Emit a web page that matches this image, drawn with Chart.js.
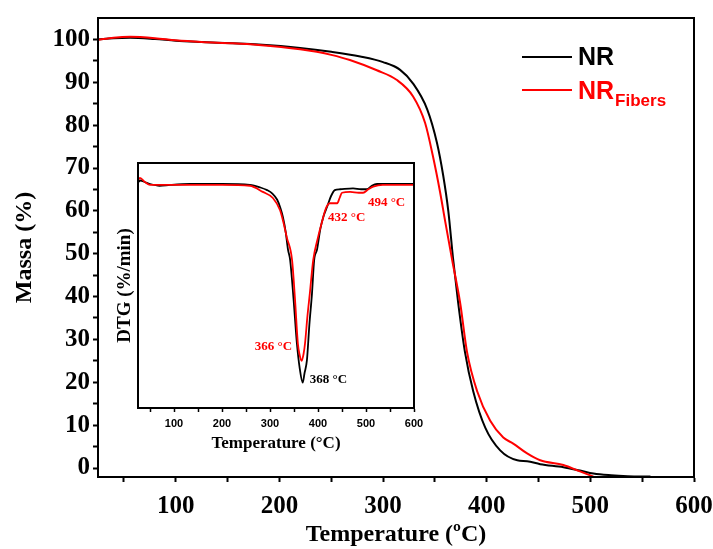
<!DOCTYPE html>
<html>
<head>
<meta charset="utf-8">
<script src="https://cdn.jsdelivr.net/npm/chart.js@4.4.1/dist/chart.umd.min.js"></script>
<style>
  html, body { margin: 0; padding: 0; background: #fff; }
  #wrap { position: relative; width: 713px; height: 549px; overflow: hidden; }
  #main { position: absolute; left: 0; top: 0; }
  #inset { position: absolute; left: 100px; top: 150px; }
  .leg-line { position: absolute; left: 522px; width: 50px; height: 2px; }
  .leg-text { position: absolute; left: 578px; font-family: "Liberation Sans", Arial, sans-serif;
              font-weight: bold; font-size: 25px; line-height: 25px; white-space: nowrap; }
  .leg-text span { font-size: 17px; position: relative; top: 7px; margin-left: 1px; }
</style>
</head>
<body>
<div id="wrap">
  <canvas id="main" width="713" height="549"></canvas>
  <canvas id="inset" width="330" height="305"></canvas>
  <div class="leg-line" style="top:56px; background:#000;"></div>
  <div class="leg-text" style="top:44px; color:#000;">NR</div>
  <div class="leg-line" style="top:89px; background:#ff0000;"></div>
  <div class="leg-text" style="top:78px; color:#ff0000;">NR<span>Fibers</span></div>
</div>
<script>
// TGA curves (mass %)
const nrTemp  = [25, 40, 56, 80, 100, 125, 155, 180, 220, 250, 278, 300, 316.5, 329, 342.6, 352, 358, 363, 367.5, 372.5, 379, 387, 398.6, 413, 429.5, 439, 451.6, 474, 490, 503, 520, 536, 558];
const nrMass  = [100.0, 100.3, 100.4, 100.1, 99.7, 99.4, 99.1, 98.8, 98.0, 97.1, 96.0, 94.7, 92.9, 89.7, 83.7, 75.9, 68.3, 59.9, 49.0, 38.5, 27.1, 17.9, 9.4, 4.1, 1.8, 1.6, 0.9, 0.2, -0.6, -1.3, -1.7, -1.9, -2.0];
const fibTemp = [25, 40, 56, 80, 100, 125, 155, 180, 220, 236, 250, 268, 294, 313, 329, 340.6, 348, 355, 360, 366.7, 374.4, 381, 390.8, 403.4, 416, 425.6, 439, 451.6, 474, 490, 503];
const fibMass = [99.9, 100.4, 100.6, 100.3, 99.8, 99.4, 99.1, 98.7, 97.7, 97.1, 96.4, 95.2, 92.8, 90.6, 86.7, 80.5, 72.9, 64.4, 57.5, 48.5, 38.5, 27.1, 17.9, 11.0, 7.1, 5.7, 3.4, 1.8, 0.7, -0.8, -2.0];

// DTG curves (inset), arbitrary %/min units
const dtgNrTemp  = [25, 30, 40, 50, 70, 92, 133, 200, 258, 280, 294, 305, 315, 322, 327, 333, 337.5, 342, 349, 356, 362, 368, 372, 377, 382, 387.5, 392, 398, 405, 412, 419, 427, 435, 446, 473, 490, 502, 512, 523, 560, 600];
const dtgNr      = [-1.2, -1.0, -1.2, -1.4, -1.6, -1.5, -1.4, -1.4, -1.5, -1.8, -2.1, -2.5, -3.2, -4.2, -5.2, -7.0, -8.9, -10.1, -14.5, -19.6, -22.5, -24.1, -23.0, -21.5, -17.5, -13.9, -10.1, -8.9, -6.5, -5.0, -4.0, -2.8, -2.1, -2.0, -1.9, -2.0, -2.0, -1.6, -1.4, -1.4, -1.4];
const dtgFibTemp = [25, 29, 40, 50, 92, 200, 258, 285, 306, 321, 328, 335, 346, 352, 358, 362, 366, 370, 373, 378, 383, 390, 400, 408, 415, 420, 425, 440, 445, 450, 467, 485, 494, 505, 515, 535, 600];
const dtgFib     = [-1.0, -0.7, -1.2, -1.5, -1.5, -1.5, -1.6, -2.3, -3.0, -4.4, -5.8, -7.5, -10.1, -14.5, -19.6, -21.0, -21.6, -20.8, -19.6, -16.5, -13.9, -10.1, -7.5, -5.8, -4.4, -3.8, -3.6, -3.6, -3.0, -2.4, -2.3, -2.4, -2.4, -2.0, -1.7, -1.5, -1.5];

// tick positions
const mainXTicks  = [50, 100, 150, 200, 250, 300, 350, 400, 450, 500, 550, 600];
const mainYTicks  = [0, 5, 10, 15, 20, 25, 30, 35, 40, 45, 50, 55, 60, 65, 70, 75, 80, 85, 90, 95, 100];
const insetXTicks = [50, 100, 150, 200, 250, 300, 350, 400, 450, 500, 550, 600];

// peak labels in the inset (data coordinates)
const peakLabels = [
  { text: '432 °C', x: 421, y: -5.2,  color: '#ff0000', align: 'left' },
  { text: '494 °C', x: 504, y: -3.5,  color: '#ff0000', align: 'left' },
  { text: '366 °C', x: 346, y: -20.0, color: '#ff0000', align: 'right' },
  { text: '368 °C', x: 383, y: -23.8, color: '#000000', align: 'left' }
];

const SERIF = '"Liberation Serif", "Times New Roman", serif';
const SANS = '"Liberation Sans", Arial, sans-serif';

function toPoints(xs, ys) {
  return xs.map((x, i) => ({ x: x, y: ys[i] }));
}

// box around the plot area
const framePlugin = {
  id: 'frame',
  beforeDraw(chart, args, opts) {
    if (!opts.fill) return;
    const a = chart.chartArea;
    chart.ctx.save();
    chart.ctx.fillStyle = '#fff';
    chart.ctx.fillRect(a.left, a.top, a.right - a.left, a.bottom - a.top);
    chart.ctx.restore();
  },
  afterDatasetsDraw(chart, args, opts) {
    const a = chart.chartArea;
    const ctx = chart.ctx;
    ctx.save();
    ctx.strokeStyle = '#000';
    ctx.lineWidth = opts.width || 2;
    ctx.strokeRect(a.left, a.top, a.right - a.left, a.bottom - a.top);
    ctx.restore();
  }
};

const peakPlugin = {
  id: 'peaks',
  afterDatasetsDraw(chart) {
    const ctx = chart.ctx;
    const xs = chart.scales.x, ys = chart.scales.y;
    ctx.save();
    ctx.font = 'bold 13px ' + SERIF;
    ctx.textBaseline = 'middle';
    peakLabels.forEach(p => {
      ctx.fillStyle = p.color;
      ctx.textAlign = p.align;
      ctx.fillText(p.text, xs.getPixelForValue(p.x), ys.getPixelForValue(p.y));
    });
    ctx.restore();
  }
};

function lineSet(label, pts, color, width, order) {
  return {
    label: label,
    data: pts,
    borderColor: color,
    backgroundColor: color,
    borderWidth: width,
    pointRadius: 0,
    fill: false,
    cubicInterpolationMode: 'monotone',
    order: order
  };
}

// x axis: fixed height, no extra room for the end labels (layout padding handles it)
function fixX(h) {
  return s => { s.height = h; s.paddingLeft = 0; s.paddingRight = 0; };
}

// main TGA chart
new Chart(document.getElementById('main'), {
  type: 'line',
  data: {
    datasets: [
      lineSet('NR', toPoints(nrTemp, nrMass), '#000000', 2, 1),
      lineSet('NR Fibers', toPoints(fibTemp, fibMass), '#ff0000', 2, 0)
    ]
  },
  options: {
    responsive: false,
    animation: false,
    layout: { padding: { top: 10, right: 19, left: 0, bottom: 0 } },
    plugins: { legend: { display: false }, tooltip: { enabled: false }, frame: { width: 2 } },
    scales: {
      x: {
        type: 'linear',
        min: 25,
        max: 600,
        afterBuildTicks: s => { s.ticks = mainXTicks.map(v => ({ value: v })); },
        afterFit: fixX(72),
        ticks: {
          callback: v => (v % 100 === 0 ? v : ''),
          autoSkip: false,
          maxRotation: 0,
          padding: 10,
          color: '#000',
          font: { family: SERIF, size: 25, weight: 'bold' }
        },
        grid: { drawOnChartArea: false, tickLength: 5, tickWidth: 2, tickColor: '#000' },
        border: { color: '#000', width: 2 },
        title: {
          display: true,
          text: 'Temperature (ºC)',
          color: '#000',
          padding: { top: 0, bottom: 0 },
          font: { family: SERIF, size: 24, weight: 'bold' }
        }
      },
      y: {
        min: -2.1,
        max: 105,
        afterBuildTicks: s => { s.ticks = mainYTicks.map(v => ({ value: v })); },
        afterFit: s => { s.width = 98; },
        ticks: {
          callback: v => (v % 10 === 0 ? v : ''),
          autoSkip: false,
          padding: 3,
          color: '#000',
          font: { family: SERIF, size: 25, weight: 'bold' }
        },
        grid: { drawOnChartArea: false, tickLength: 5, tickWidth: 2, tickColor: '#000' },
        border: { color: '#000', width: 2 },
        title: {
          display: true,
          text: 'Massa (%)',
          color: '#000',
          padding: { top: 10, bottom: 0 },
          font: { family: SERIF, size: 24, weight: 'bold' }
        }
      }
    }
  },
  plugins: [framePlugin]
});

// DTG inset
new Chart(document.getElementById('inset'), {
  type: 'line',
  data: {
    datasets: [
      lineSet('NR', toPoints(dtgNrTemp, dtgNr), '#000000', 1.8, 1),
      lineSet('NR Fibers', toPoints(dtgFibTemp, dtgFib), '#ff0000', 1.8, 0)
    ]
  },
  options: {
    responsive: false,
    animation: false,
    layout: { padding: { top: 13, right: 16, left: 0, bottom: 0 } },
    plugins: { legend: { display: false }, tooltip: { enabled: false }, frame: { width: 2, fill: true } },
    scales: {
      x: {
        type: 'linear',
        min: 25,
        max: 600,
        afterBuildTicks: s => { s.ticks = insetXTicks.map(v => ({ value: v })); },
        afterFit: fixX(47),
        ticks: {
          callback: v => (v % 100 === 0 ? v : ''),
          autoSkip: false,
          maxRotation: 0,
          padding: 5,
          color: '#000',
          font: { family: SANS, size: 11, weight: 'bold' }
        },
        grid: { drawOnChartArea: false, tickLength: 4, tickWidth: 1.5, tickColor: '#000' },
        border: { color: '#000', width: 2 },
        title: {
          display: true,
          text: 'Temperature (°C)',
          color: '#000',
          padding: { top: 0, bottom: 1 },
          font: { family: SERIF, size: 17, weight: 'bold' }
        }
      },
      y: {
        min: -27,
        max: 1,
        afterFit: s => { s.width = 38; },
        ticks: { display: false },
        grid: { display: false },
        border: { display: false },
        title: {
          display: true,
          text: 'DTG (%/min)',
          color: '#000',
          padding: { top: 14, bottom: 0 },
          font: { family: SERIF, size: 19, weight: 'bold' }
        }
      }
    }
  },
  plugins: [framePlugin, peakPlugin]
});
</script>
</body>
</html>
